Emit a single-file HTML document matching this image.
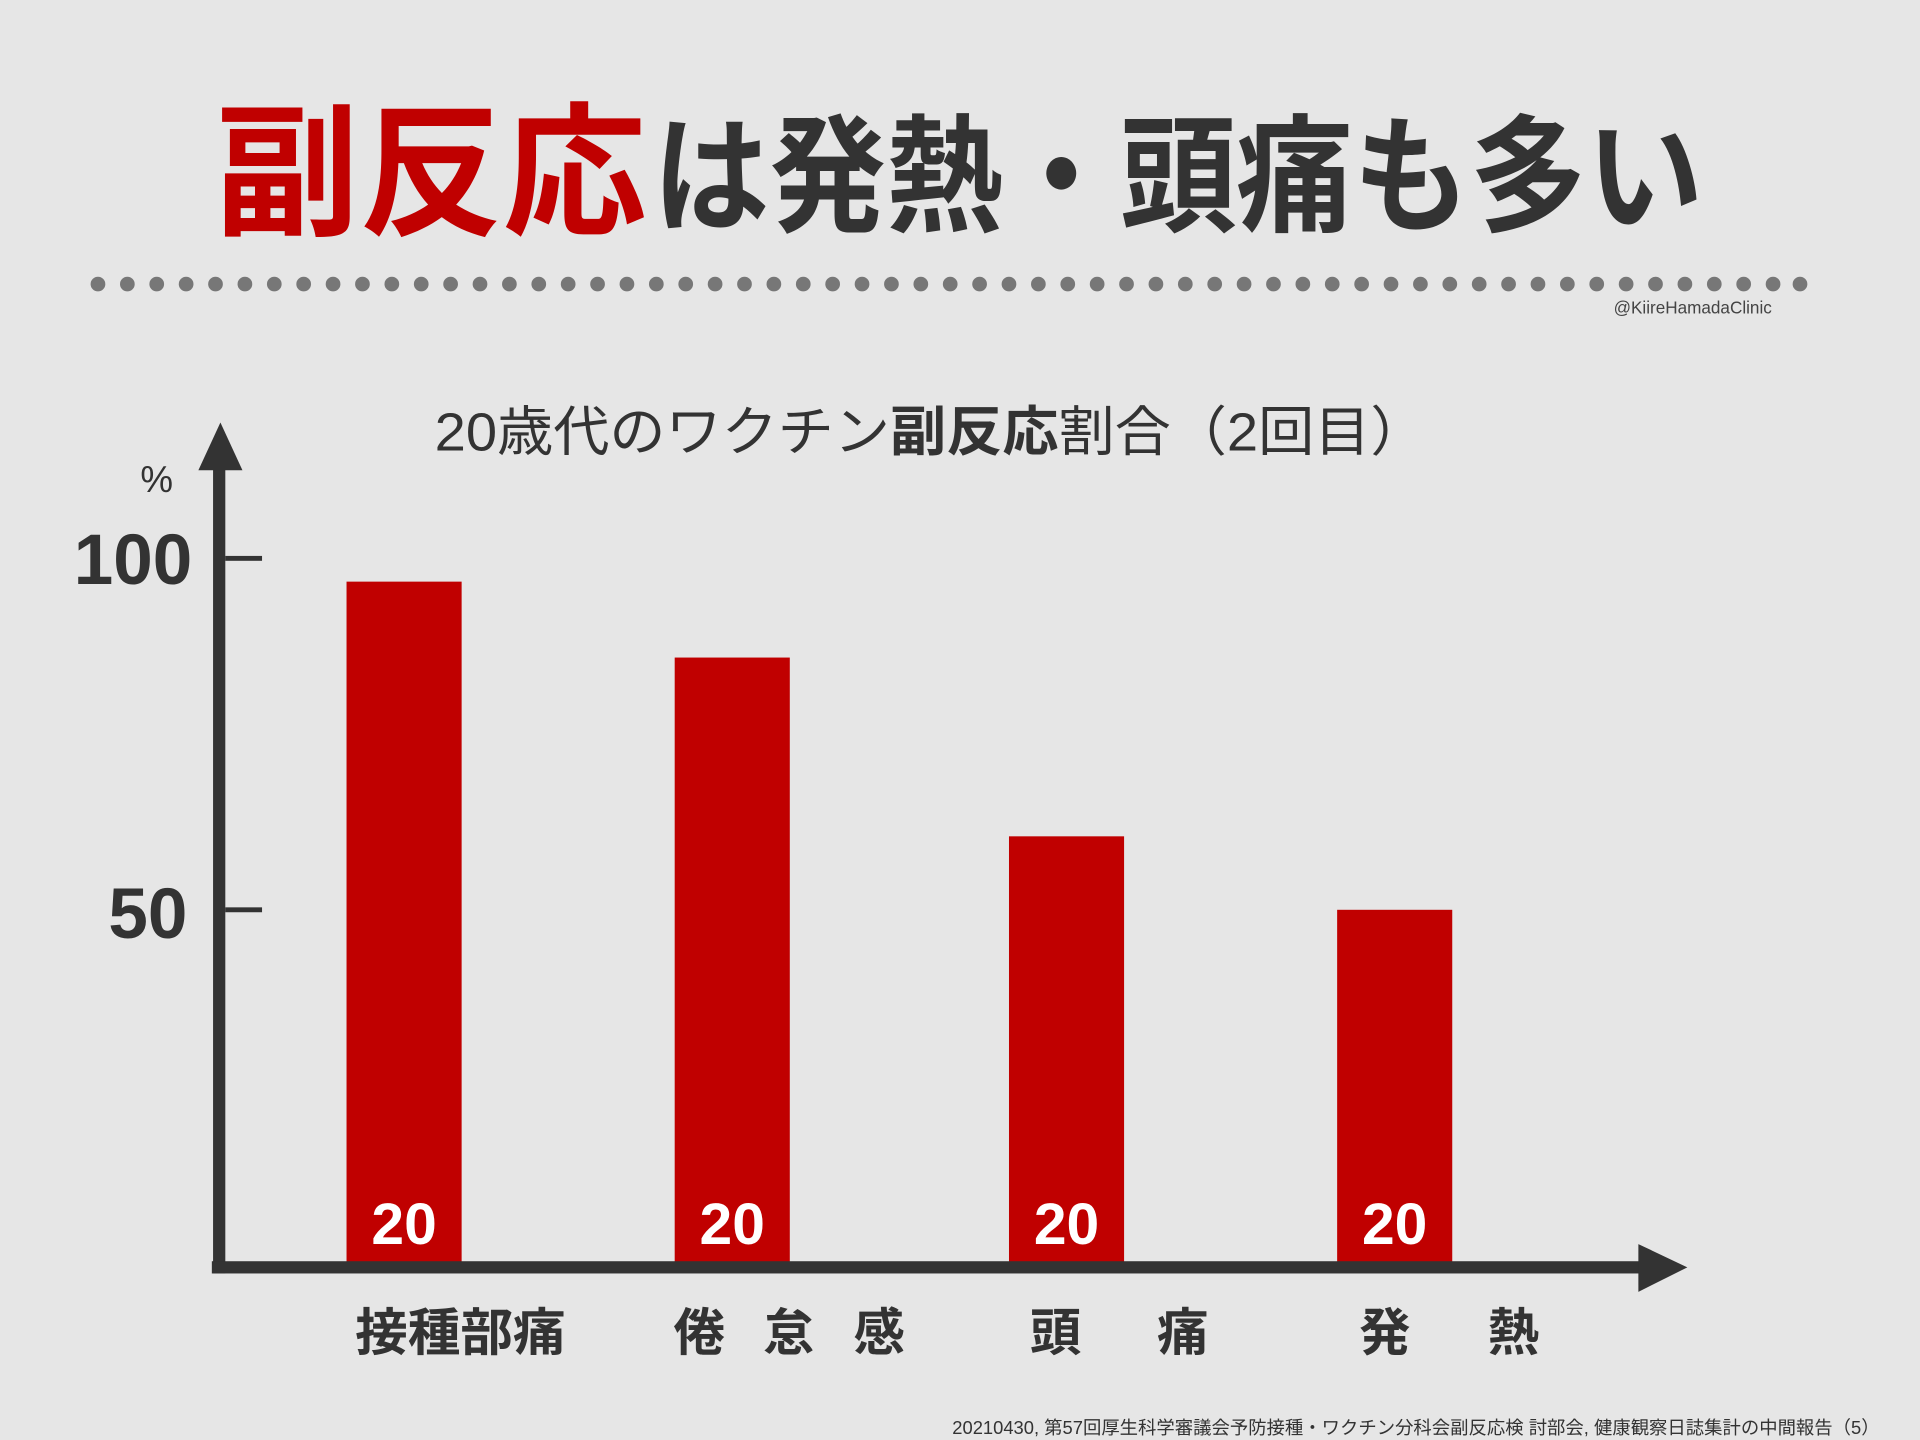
<!DOCTYPE html>
<html><head><meta charset="utf-8"><style>
html,body{margin:0;padding:0;background:#e6e6e6;}
svg{display:block;}
text{font-family:"Liberation Sans","Noto Sans CJK JP",sans-serif;}
</style></head><body>
<svg width="1920" height="1440" viewBox="0 0 1568 1176" xmlns="http://www.w3.org/2000/svg">
<rect width="1568" height="1176" fill="#e6e6e6"/>
<text x="176" y="183" font-size="118" font-weight="700" fill="#c00000" textLength="352" lengthAdjust="spacingAndGlyphs">副反応</text>
<text x="533" y="181" font-size="104" font-weight="700" fill="#333" textLength="858" lengthAdjust="spacingAndGlyphs">は発熱・頭痛も多い</text>
<text x="1447" y="256" font-size="14" fill="#444" text-anchor="end">@KiireHamadaClinic</text>
<text x="355" y="368" font-size="44" fill="#333" textLength="810" lengthAdjust="spacingAndGlyphs">20歳代のワクチン<tspan font-weight="700">副反応</tspan>割合（2回目）</text>
<text x="128" y="402" font-size="30" fill="#333" text-anchor="middle">%</text>
<text x="157" y="477" font-size="58" font-weight="700" fill="#333" text-anchor="end">100</text>
<text x="153" y="766" font-size="58" font-weight="700" fill="#333" text-anchor="end">50</text>
<g fill="#c00000">
<rect x="283" y="475" width="94" height="558"/>
<rect x="551" y="537" width="94" height="496"/>
<rect x="824" y="683" width="94" height="350"/>
<rect x="1092" y="743" width="94" height="290"/>
</g>
<g fill="#fff" font-size="48" font-weight="700" text-anchor="middle">
<text x="330" y="1016">20</text>
<text x="598" y="1016">20</text>
<text x="871" y="1016">20</text>
<text x="1139" y="1016">20</text>
</g>
<g fill="#333">
<rect x="174" y="380" width="10" height="660"/>
<polygon points="180,345 162,384 198,384"/>
<rect x="173" y="1030" width="1170" height="10"/>
<polygon points="1378,1035 1338,1016 1338,1055"/>
<rect x="184" y="454" width="30" height="4"/>
<rect x="184" y="741" width="30" height="4"/>
</g>
<g fill="#333" font-size="42" font-weight="700">
<text x="290" y="1103" textLength="172" lengthAdjust="spacingAndGlyphs">接種部痛</text>
<text x="550" y="1103">倦</text><text x="623" y="1103">怠</text><text x="697" y="1103">感</text>
<text x="841" y="1103">頭</text><text x="945" y="1103">痛</text>
<text x="1110" y="1103">発</text><text x="1215" y="1103">熱</text>
</g>
<text x="1535" y="1171" font-size="15" fill="#333" text-anchor="end">20210430, 第57回厚生科学審議会予防接種・ワクチン分科会副反応検 討部会, 健康観察日誌集計の中間報告（5）</text>
<g fill="#777">
<circle cx="80" cy="232" r="6"/><circle cx="104" cy="232" r="6"/><circle cx="128" cy="232" r="6"/><circle cx="152" cy="232" r="6"/><circle cx="176" cy="232" r="6"/><circle cx="200" cy="232" r="6"/><circle cx="224" cy="232" r="6"/><circle cx="248" cy="232" r="6"/><circle cx="272" cy="232" r="6"/><circle cx="296" cy="232" r="6"/><circle cx="320" cy="232" r="6"/><circle cx="344" cy="232" r="6"/><circle cx="368" cy="232" r="6"/><circle cx="392" cy="232" r="6"/><circle cx="416" cy="232" r="6"/><circle cx="440" cy="232" r="6"/><circle cx="464" cy="232" r="6"/><circle cx="488" cy="232" r="6"/><circle cx="512" cy="232" r="6"/><circle cx="536" cy="232" r="6"/><circle cx="560" cy="232" r="6"/><circle cx="584" cy="232" r="6"/><circle cx="608" cy="232" r="6"/><circle cx="632" cy="232" r="6"/><circle cx="656" cy="232" r="6"/><circle cx="680" cy="232" r="6"/><circle cx="704" cy="232" r="6"/><circle cx="728" cy="232" r="6"/><circle cx="752" cy="232" r="6"/><circle cx="776" cy="232" r="6"/><circle cx="800" cy="232" r="6"/><circle cx="824" cy="232" r="6"/><circle cx="848" cy="232" r="6"/><circle cx="872" cy="232" r="6"/><circle cx="896" cy="232" r="6"/><circle cx="920" cy="232" r="6"/><circle cx="944" cy="232" r="6"/><circle cx="968" cy="232" r="6"/><circle cx="992" cy="232" r="6"/><circle cx="1016" cy="232" r="6"/><circle cx="1040" cy="232" r="6"/><circle cx="1064" cy="232" r="6"/><circle cx="1088" cy="232" r="6"/><circle cx="1112" cy="232" r="6"/><circle cx="1136" cy="232" r="6"/><circle cx="1160" cy="232" r="6"/><circle cx="1184" cy="232" r="6"/><circle cx="1208" cy="232" r="6"/><circle cx="1232" cy="232" r="6"/><circle cx="1256" cy="232" r="6"/><circle cx="1280" cy="232" r="6"/><circle cx="1304" cy="232" r="6"/><circle cx="1328" cy="232" r="6"/><circle cx="1352" cy="232" r="6"/><circle cx="1376" cy="232" r="6"/><circle cx="1400" cy="232" r="6"/><circle cx="1424" cy="232" r="6"/><circle cx="1448" cy="232" r="6"/><circle cx="1470" cy="232" r="6"/>
</g>
</svg>
</body></html>
